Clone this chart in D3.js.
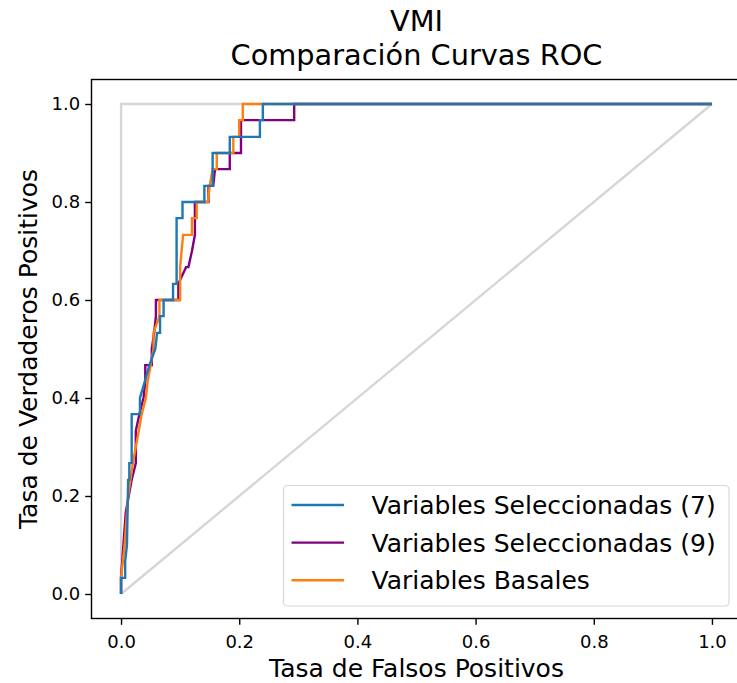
<!DOCTYPE html>
<html>
<head>
<meta charset="utf-8">
<script src="https://cdn.jsdelivr.net/npm/d3@7"></script>
<style>
  body { margin: 0; background: #fff; }
  svg { display: block; font-family: "DejaVu Sans", sans-serif; }
</style>
</head>
<body>
<svg id="chart" width="737" height="683"></svg>
<script>
// ROC curve points
const fpr7 = [0, 0, 0.007, 0.007, 0.01, 0.012, 0.014, 0.014, 0.018, 0.018, 0.032, 0.032, 0.04, 0.048, 0.058, 0.061, 0.066, 0.066, 0.072, 0.072, 0.088, 0.088, 0.094, 0.094, 0.104, 0.104, 0.13, 0.13, 0.141, 0.141, 0.155, 0.155, 0.184, 0.184, 0.235, 0.235, 0.24, 0.24, 1];
const tpr7 = [0, 0.033, 0.033, 0.067, 0.1, 0.233, 0.233, 0.267, 0.267, 0.367, 0.367, 0.4, 0.433, 0.467, 0.5, 0.533, 0.533, 0.567, 0.567, 0.6, 0.6, 0.633, 0.633, 0.767, 0.767, 0.8, 0.8, 0.8, 0.8, 0.833, 0.833, 0.9, 0.9, 0.933, 0.933, 0.967, 0.967, 1, 1];

const fpr9 = [0, 0, 0.004, 0.008, 0.018, 0.025, 0.025, 0.031, 0.038, 0.041, 0.041, 0.052, 0.052, 0.056, 0.059, 0.059, 0.097, 0.097, 0.11, 0.114, 0.12, 0.125, 0.125, 0.148, 0.148, 0.156, 0.159, 0.184, 0.184, 0.203, 0.203, 0.293, 0.293, 1];
const tpr9 = [0, 0.033, 0.1, 0.167, 0.233, 0.267, 0.333, 0.367, 0.4, 0.433, 0.467, 0.467, 0.5, 0.533, 0.567, 0.6, 0.6, 0.633, 0.667, 0.667, 0.7, 0.733, 0.8, 0.8, 0.833, 0.833, 0.867, 0.867, 0.9, 0.9, 0.967, 0.967, 1, 1];

const fprBase = [0, 0, 0.006, 0.012, 0.02, 0.03, 0.035, 0.042, 0.045, 0.05, 0.055, 0.055, 0.065, 0.065, 0.1, 0.1, 0.105, 0.12, 0.12, 0.128, 0.128, 0.147, 0.15, 0.155, 0.162, 0.162, 0.19, 0.19, 0.2, 0.2, 0.206, 0.206, 1];
const tprBase = [0, 0.033, 0.1, 0.2, 0.267, 0.333, 0.367, 0.4, 0.433, 0.467, 0.5, 0.533, 0.567, 0.6, 0.6, 0.667, 0.733, 0.733, 0.767, 0.767, 0.8, 0.8, 0.833, 0.867, 0.867, 0.9, 0.9, 0.933, 0.933, 0.967, 0.967, 1, 1];

// reference lines: perfect classifier and chance diagonal
const perfectX = [0, 0, 1];
const perfectY = [0, 1, 1];
const chanceX = [0, 1];
const chanceY = [0, 1];

const seriesLabels = ["Variables Seleccionadas (7)", "Variables Seleccionadas (9)", "Variables Basales"];
const seriesColors = ["#1f77b4", "purple", "#ff7f0e"];
const tickValues = [0, 0.2, 0.4, 0.6, 0.8, 1.0];

const zip = (xs, ys) => xs.map((x, i) => [x, ys[i]]);

const xScale = d3.scaleLinear().domain([-0.05, 1.05]).range([91.5, 741.5]);
const yScale = d3.scaleLinear().domain([-0.05, 1.05]).range([618.5, 79.5]);

const chart = d3.select("#chart");

const line = d3
  .line()
  .x((d) => xScale(d[0]))
  .y((d) => yScale(d[1]));

// axes
const xAxis = d3.axisBottom(xScale).tickValues(tickValues).tickFormat(d3.format(".1f")).tickSizeOuter(0).tickSize(6.3).tickPadding(5);
const yAxis = d3.axisLeft(yScale).tickValues(tickValues).tickFormat(d3.format(".1f")).tickSizeOuter(0).tickSize(6.3).tickPadding(5);

const gx = chart.append("g").attr("transform", "translate(0, 618.5)").call(xAxis);
const gy = chart.append("g").attr("transform", "translate(91.5, 0)").call(yAxis);

[gx, gy].forEach((g) => {
  g.select(".domain").remove();
  g.selectAll("line").attr("stroke", "#000").attr("stroke-width", 1.4);
  g.selectAll("text")
    .attr("fill", "#000")
    .style("font-family", "DejaVu Sans")
    .style("font-size", "18px");
});
gx.selectAll("text").attr("dy", "1em");

// reference lines
chart
  .append("path")
  .attr("d", line(zip(perfectX, perfectY)))
  .attr("fill", "none")
  .attr("stroke", "#d6d6d6")
  .attr("stroke-width", 2.4);

chart
  .append("path")
  .attr("d", line(zip(chanceX, chanceY)))
  .attr("fill", "none")
  .attr("stroke", "#d6d6d6")
  .attr("stroke-width", 2.4);

// curves (purple, orange, then blue on top)
const curves = [
  { pts: zip(fpr9, tpr9), color: seriesColors[1] },
  { pts: zip(fprBase, tprBase), color: seriesColors[2] },
  { pts: zip(fpr7, tpr7), color: seriesColors[0] },
];

curves.forEach((c) => {
  chart
    .append("path")
    .attr("d", line(c.pts))
    .attr("fill", "none")
    .attr("stroke", c.color)
    .attr("stroke-width", 2.4)
    .attr("stroke-linejoin", "miter");
});

// frame
chart
  .append("rect")
  .attr("x", 91.5)
  .attr("y", 79.5)
  .attr("width", 650)
  .attr("height", 539)
  .attr("fill", "none")
  .attr("stroke", "#000")
  .attr("stroke-width", 1.4);

// legend
const legend = chart.append("g");

legend
  .append("rect")
  .attr("x", 283.5)
  .attr("y", 485.5)
  .attr("width", 445.5)
  .attr("height", 120.5)
  .attr("rx", 4)
  .attr("fill", "#fff")
  .attr("fill-opacity", 0.8)
  .attr("stroke", "#d8d8d8")
  .attr("stroke-width", 1.2);

seriesLabels.forEach((label, i) => {
  const cy = 505 + i * 37.6;
  legend
    .append("line")
    .attr("x1", 291.5)
    .attr("x2", 344)
    .attr("y1", cy)
    .attr("y2", cy)
    .attr("stroke", seriesColors[i])
    .attr("stroke-width", 2.4);
  legend
    .append("text")
    .attr("x", 371.5)
    .attr("y", cy + 9)
    .style("font-size", "25px")
    .attr("fill", "#000")
    .text(label);
});

// axis labels
chart
  .append("text")
  .attr("x", 416.5)
  .attr("y", 677)
  .attr("text-anchor", "middle")
  .style("font-size", "25px")
  .text("Tasa de Falsos Positivos");

chart
  .append("text")
  .attr("x", -349)
  .attr("y", 37)
  .attr("text-anchor", "middle")
  .attr("transform", "rotate(-90)")
  .style("font-size", "25px")
  .text("Tasa de Verdaderos Positivos");

// title
chart
  .append("text")
  .attr("x", 416.5)
  .attr("y", 31)
  .attr("text-anchor", "middle")
  .style("font-size", "28.8px")
  .text("VMI");

chart
  .append("text")
  .attr("x", 416.5)
  .attr("y", 65)
  .attr("text-anchor", "middle")
  .style("font-size", "28.8px")
  .text("Comparación Curvas ROC");
</script>
</body>
</html>
